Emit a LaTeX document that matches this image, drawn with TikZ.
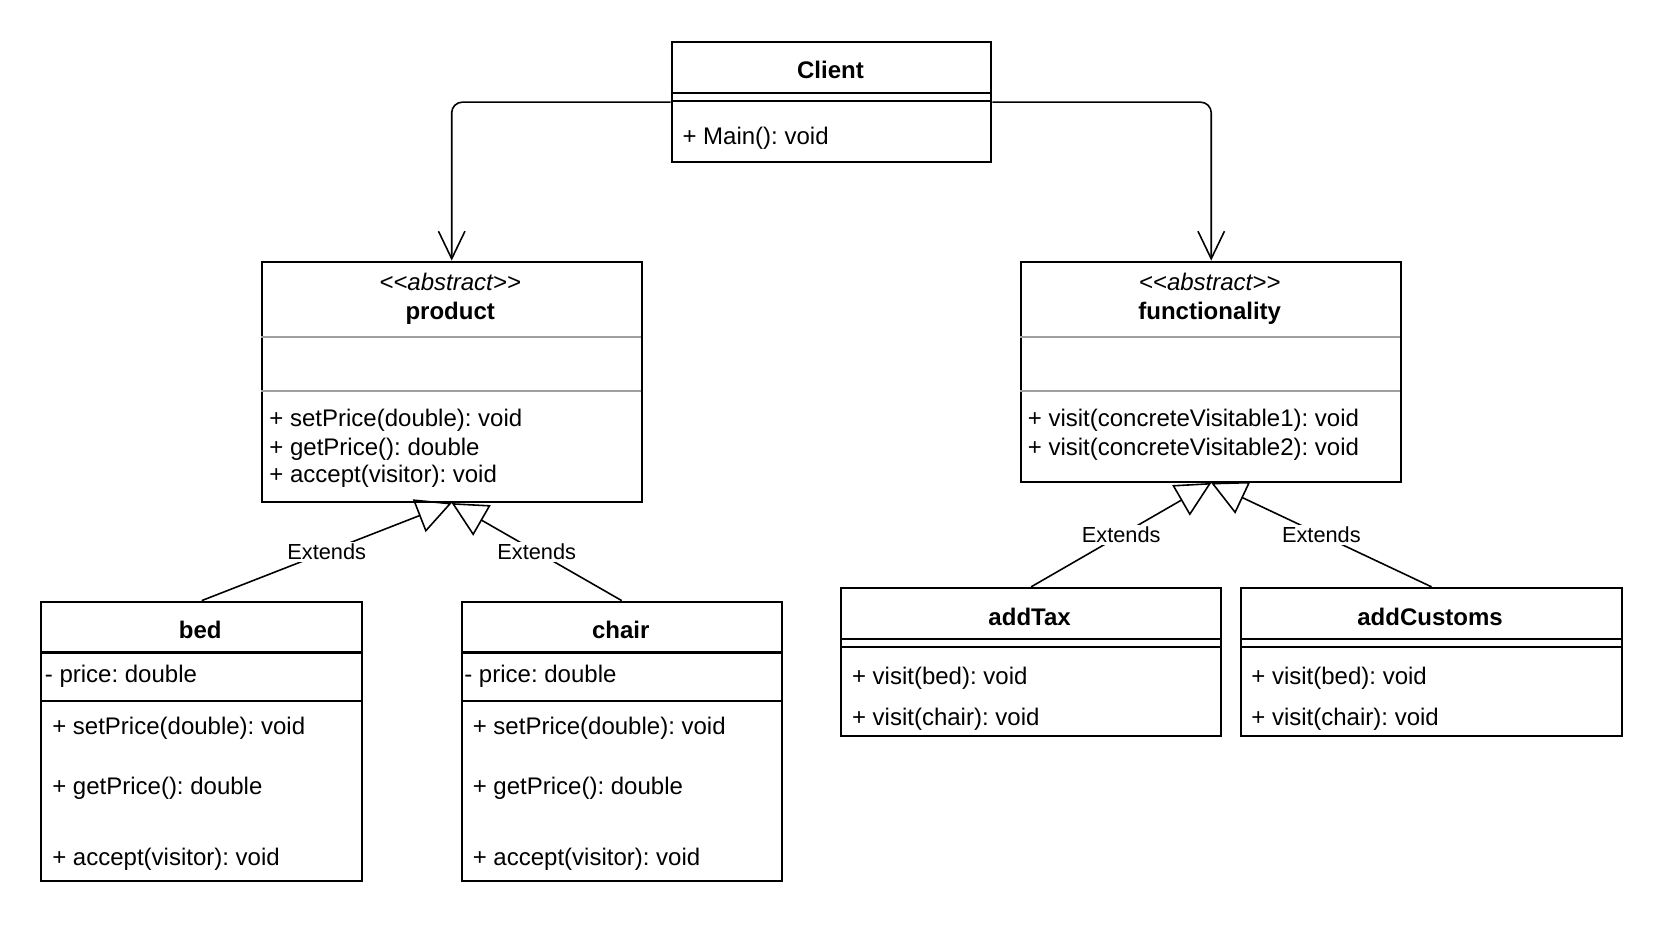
\documentclass[tikz,border=0pt]{standalone}
\usepackage{fontspec}
\setmainfont{Liberation Sans}
\usetikzlibrary{arrows.meta}
\frenchspacing

\begin{document}
\begin{tikzpicture}[x=0.02cm, y=-0.02cm,
    every node/.style={font=\fontsize{12.9}{15}\selectfont},
    cls/.style={draw, line width=1.1pt, inner sep=0pt, anchor=north west},
    sep/.style={line width=1.1pt},
    gsep/.style={line width=0.9pt, gray!75},
    title/.style={font=\fontsize{12.9}{15}\selectfont\bfseries, yshift=-0.04cm},
    stereo/.style={font=\fontsize{12.9}{15}\selectfont\itshape},
    item/.style={anchor=mid west, inner sep=0pt, yshift=-0.08cm},
    assoc/.style={-{Straight Barb[length=0.52cm, width=0.5cm]}, line width=0.85pt, rounded corners=0.2cm},
    ext/.style={-{Triangle[open, length=0.66cm, width=0.66cm]}, line width=0.85pt},
    lbl/.style={fill=white, inner sep=1pt, font=\fontsize{11.7}{14}\selectfont}]
    \useasboundingbox (0,0) rectangle (1569,876);

    \node[cls, minimum width=6.04cm, minimum height=2.26cm] (client) at (633,39) {};
    \node[cls, minimum width=7.18cm, minimum height=4.54cm] (product) at (246,246) {};
    \node[cls, minimum width=7.18cm, minimum height=4.16cm] (functionality) at (963,246) {};
    \node[cls, minimum width=6.06cm, minimum height=5.28cm] (bed) at (38,567) {};
    \node[cls, minimum width=6.04cm, minimum height=5.28cm] (chair) at (435,567) {};
    \node[cls, minimum width=7.18cm, minimum height=2.8cm] (addTax) at (793,554) {};
    \node[cls, minimum width=7.18cm, minimum height=2.8cm] (addCustoms) at (1171,554) {};

    \draw[sep] (633,88) -- (935,88);
    \draw[sep] (633,95.5) -- (935,95.5);
    \draw[gsep] (246,318) -- (605,318);
    \draw[gsep] (246,369) -- (605,369);
    \draw[gsep] (963,318) -- (1322,318);
    \draw[gsep] (963,369) -- (1322,369);
    \draw[sep] (38,616) -- (341,616);
    \draw[sep] (38,662) -- (341,662);
    \draw[sep] (435,616) -- (737,616);
    \draw[sep] (435,662) -- (737,662);
    \draw[sep] (793,603) -- (1152,603);
    \draw[sep] (793,610.5) -- (1152,610.5);
    \draw[sep] (1171,603) -- (1530,603);
    \draw[sep] (1171,610.5) -- (1530,610.5);

    \node[title] (clientT) at (784,64) {Client};
    \node[item] (clientM) at (644,128) {+ Main(): void};

    \node[stereo] (productS) at (425,266) {<\kern0pt<abstract>\kern0pt>};
    \node[title] (productT) at (425,294) {product};
    \node[item] (productM1) at (254,394) {+ setPrice(double): void};
    \node[item] (productM2) at (254,421) {+ getPrice(): double};
    \node[item] (productM3) at (254,447) {+ accept(visitor): void};

    \node[stereo] (functionalityS) at (1142,266) {<\kern0pt<abstract>\kern0pt>};
    \node[title] (functionalityT) at (1142,294) {functionality};
    \node[item] (functionalityM1) at (970,394) {+ visit(concreteVisitable1): void};
    \node[item] (functionalityM2) at (970,421) {+ visit(concreteVisitable2): void};

    \node[title] (bedT) at (189,593) {bed};
    \node[item] (bedA) at (42,636) {- price: double};
    \node[item] (bedM1) at (49,685) {+ setPrice(double): void};
    \node[item] (bedM2) at (49,741) {+ getPrice(): double};
    \node[item] (bedM3) at (49,808) {+ accept(visitor): void};

    \node[title] (chairT) at (586,593) {chair};
    \node[item] (chairA) at (438,636) {- price: double};
    \node[item] (chairM1) at (446,685) {+ setPrice(double): void};
    \node[item] (chairM2) at (446,741) {+ getPrice(): double};
    \node[item] (chairM3) at (446,808) {+ accept(visitor): void};

    \node[title] (addTaxT) at (972,580) {addTax};
    \node[item] (addTaxM1) at (804,638) {+ visit(bed): void};
    \node[item] (addTaxM2) at (804,676) {+ visit(chair): void};

    \node[title] (addCustomsT) at (1350,580) {addCustoms};
    \node[item] (addCustomsM1) at (1181,638) {+ visit(bed): void};
    \node[item] (addCustomsM2) at (1181,676) {+ visit(chair): void};

    \draw[assoc] (client.west) -| (product.north);
    \draw[assoc] (client.east) -| (functionality.north);

    \draw[ext] (bed.north) -- node[lbl] {Extends} (product.south);
    \draw[ext] (chair.north) -- node[lbl] {Extends} (product.south);
    \draw[ext] (addTax.north) -- node[lbl] {Extends} (functionality.south);
    \draw[ext] (addCustoms.north) -- node[lbl] {Extends} (functionality.south);
  \end{tikzpicture}
\end{document}
